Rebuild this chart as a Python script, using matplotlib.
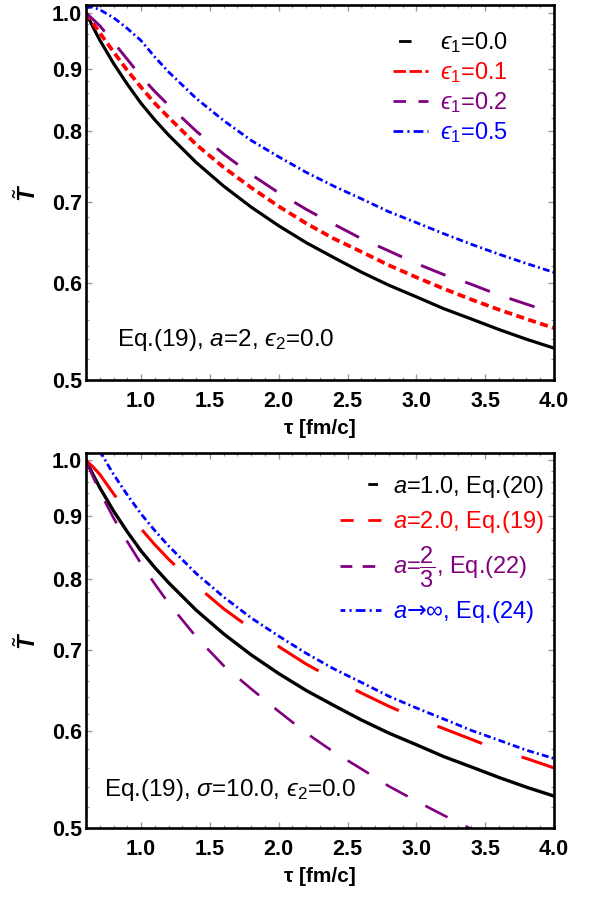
import matplotlib
matplotlib.use('Agg')
import matplotlib.pyplot as plt
from matplotlib.lines import Line2D
from matplotlib.ticker import FixedLocator, FixedFormatter, NullFormatter

plt.rcParams['font.family'] = ['Liberation Sans', 'DejaVu Sans']
plt.rcParams['mathtext.fontset'] = 'custom'
plt.rcParams['mathtext.rm'] = 'Liberation Sans'
plt.rcParams['mathtext.it'] = 'Liberation Sans:italic'
plt.rcParams['mathtext.bf'] = 'Liberation Sans:bold'
plt.rcParams['mathtext.bfit'] = 'Liberation Sans:italic:bold'
plt.rcParams['mathtext.sf'] = 'DejaVu Sans'
plt.rcParams['mathtext.fallback'] = 'stixsans'
plt.rcParams['lines.scale_dashes'] = False

# ---------------- data ----------------
tau = [0.6, 0.65, 0.7, 0.8, 0.9, 1.0, 1.1, 1.2, 1.4, 1.6, 1.8, 2.0,
       2.2, 2.4, 2.6, 2.8, 3.0, 3.2, 3.4, 3.6, 3.8, 4.0]

# top panel: Eq.(19), a=2, eps2=0.0
top_eps00 = [1.000, 0.974, 0.950, 0.909, 0.874, 0.843, 0.817, 0.794, 0.754, 0.721, 0.693, 0.669,
             0.648, 0.630, 0.613, 0.598, 0.585, 0.572, 0.561, 0.550, 0.540, 0.531]
top_eps01 = [1.000, 0.981, 0.963, 0.929, 0.897, 0.869, 0.843, 0.821, 0.780, 0.747, 0.719, 0.694,
             0.672, 0.653, 0.637, 0.621, 0.607, 0.594, 0.582, 0.571, 0.561, 0.5515]
top_eps02 = [1.000, 0.988, 0.976, 0.946, 0.916, 0.887, 0.862, 0.840, 0.800, 0.766, 0.737, 0.712,
             0.690, 0.671, 0.653, 0.638, 0.623, 0.610, 0.599, 0.587, 0.577, 0.567]
top_eps05 = [1.010, 1.011, 1.006, 0.991, 0.971, 0.949, 0.920, 0.8945, 0.851, 0.816, 0.786, 0.762,
             0.740, 0.721, 0.704, 0.687, 0.673, 0.659, 0.646, 0.634, 0.623, 0.6126]
top_labels = ['$\u03f5_1$=0.0', '$\u03f5_1$=0.1', '$\u03f5_1$=0.2', '$\u03f5_1$=0.5']

# bottom panel: Eq.(19), sigma=10.0, eps2=0.0
bot_a1 = [1.000, 0.974, 0.950, 0.909, 0.874, 0.843, 0.817, 0.794, 0.754, 0.721, 0.693, 0.669,
          0.648, 0.630, 0.613, 0.598, 0.585, 0.572, 0.561, 0.550, 0.540, 0.531]
bot_a2 = [1.000, 0.988, 0.974, 0.939, 0.907, 0.879, 0.853, 0.830, 0.790, 0.756, 0.728, 0.704,
          0.681, 0.662, 0.645, 0.629, 0.615, 0.603, 0.591, 0.579, 0.570, 0.560]
bot_a23 = [1.000, 0.970, 0.943, 0.897, 0.858, 0.823, 0.792, 0.764, 0.717, 0.679, 0.650, 0.623,
           0.598, 0.577, 0.559, 0.541, 0.526, 0.512, 0.499, 0.487, 0.476, 0.465]
bot_ainf = [1.072, 1.044, 1.018, 0.974, 0.937, 0.904, 0.876, 0.851, 0.808, 0.773, 0.743, 0.718,
            0.695, 0.675, 0.658, 0.641, 0.627, 0.614, 0.601, 0.590, 0.579, 0.570]
bot_labels = [r'$a$=1.0, Eq.(20)', r'$a$=2.0, Eq.(19)', r'$a$=$\dfrac{2}{3}$, Eq.(22)',
              '$a\\mathsf{\u2192}$\u221e, Eq.(24)']

xticks = [1.0, 1.5, 2.0, 2.5, 3.0, 3.5, 4.0]
xtick_labels = ['1.0', '1.5', '2.0', '2.5', '3.0', '3.5', '4.0']
xminor = [0.7, 0.8, 0.9, 1.1, 1.2, 1.3, 1.4, 1.6, 1.7, 1.8, 1.9, 2.1, 2.2, 2.3, 2.4,
          2.6, 2.7, 2.8, 2.9, 3.1, 3.2, 3.3, 3.4, 3.6, 3.7, 3.8, 3.9]
yticks = [0.5, 0.6, 0.7, 0.8, 0.9, 1.0]
ytick_labels = ['0.5', '0.6', '0.7', '0.8', '0.9', '1.0']
yminor = [0.52, 0.54, 0.56, 0.58, 0.62, 0.64, 0.66, 0.68, 0.72, 0.74, 0.76, 0.78,
          0.82, 0.84, 0.86, 0.88, 0.92, 0.94, 0.96, 0.98]

BLACK, RED, PURPLE, BLUE = '#000000', '#ff0000', '#800080', '#0000ff'

fig = plt.figure(figsize=(5.92, 8.97), dpi=100)
W, H = 592, 897
def axrect(l, t, r, b):
    return [l / W, 1 - b / H, (r - l) / W, (b - t) / H]

ax1 = fig.add_axes(axrect(86, 5.5, 554, 380))
ax2 = fig.add_axes(axrect(86, 453, 554, 828))

def style(ax):
    ax.set_yscale('log')
    ax.set_xlim(0.6, 4.0)
    ax.set_ylim(0.5, 1.014)
    ax.yaxis.set_major_locator(FixedLocator(yticks))
    ax.yaxis.set_major_formatter(FixedFormatter(ytick_labels))
    ax.yaxis.set_minor_locator(FixedLocator(yminor))
    ax.yaxis.set_minor_formatter(NullFormatter())
    ax.xaxis.set_major_locator(FixedLocator(xticks))
    ax.xaxis.set_major_formatter(FixedFormatter(xtick_labels))
    ax.xaxis.set_minor_locator(FixedLocator(xminor))
    ax.tick_params(which='both', direction='in', top=True, right=True, color='#999999')
    ax.tick_params(which='major', length=4.5, width=1.0)
    ax.tick_params(which='minor', length=2.5, width=0.8)
    ax.tick_params(axis='x', which='major', pad=8)
    ax.tick_params(axis='y', which='major', pad=3)
    for lab in ax.get_xticklabels() + ax.get_yticklabels():
        lab.set_fontweight('bold')
        lab.set_fontsize(15.5)
    for sp in ax.spines.values():
        sp.set_linewidth(1.9)
        sp.set_color('black')
    ax.set_xlabel('τ [fm/c]', fontsize=15, fontweight='bold', labelpad=5)
    ax.set_ylabel(r'$\tilde{\mathbfit{T}}$', fontsize=17, labelpad=8)

style(ax1)
style(ax2)

# top panel curves
ax1.plot(tau, top_eps00, color=BLACK, lw=2.3)
ax1.plot(tau, top_eps01, color=RED, lw=2.7, linestyle=(0, (5.8, 3.2)))
ax1.plot(tau, top_eps02, color=PURPLE, lw=2.1, linestyle=(0, (19, 15)))
ax1.plot(tau, top_eps05, color=BLUE, lw=2.0, linestyle=(0, (5, 2.3, 1.4, 2.3)))

h_top = [
    Line2D([], [], color=BLACK, lw=2.0, linestyle=(35, (9, 30))),
    Line2D([], [], color=RED, lw=2.0, linestyle=(0, (9, 2.5))),
    Line2D([], [], color=PURPLE, lw=2.0, linestyle=(0, (9, 9))),
    Line2D([], [], color=BLUE, lw=2.0, linestyle=(0, (7, 3, 1.5, 3))),
]
leg1 = ax1.legend(h_top, top_labels, loc='upper left', bbox_to_anchor=(0.656, 0.935),
                  frameon=False, fontsize=17, handlelength=1.5, handletextpad=0.5,
                  labelspacing=0.22, borderpad=0, borderaxespad=0,
                  labelcolor=[BLACK, RED, PURPLE, BLUE])
ax1.text(0.066, 0.107, 'Eq.(19), $a$=2, $\u03f5_2$=0.0', transform=ax1.transAxes,
         fontsize=17.5, ha='left', va='center')

# bottom panel curves
ax2.plot(tau, bot_a1, color=BLACK, lw=2.4)
ax2.plot(tau, bot_a2, color=RED, lw=2.2, linestyle=(0, (34.5, 30)))
ax2.plot(tau, bot_a23, color=PURPLE, lw=1.9, linestyle=(0, (18, 14.4)))
ax2.plot(tau, bot_ainf, color=BLUE, lw=2.0, linestyle=(0, (5, 2.3, 1.4, 2.3)))

h_bot = [
    Line2D([], [], color=BLACK, lw=2.0, linestyle=(87, (7, 100))),
    Line2D([], [], color=RED, lw=2.0, linestyle=(0, (9.5, 10.5))),
    Line2D([], [], color=PURPLE, lw=2.0, linestyle=(17, (9, 7.5))),
    Line2D([], [], color=BLUE, lw=2.0, linestyle=(18, (7, 3, 1.5, 3))),
]
leg2 = ax2.legend(h_bot, bot_labels, loc='upper left', bbox_to_anchor=(0.543, 0.945),
                  frameon=False, fontsize=17, handlelength=1.75, handletextpad=0.5,
                  labelspacing=0.4, borderpad=0, borderaxespad=0,
                  labelcolor=[BLACK, RED, PURPLE, BLUE])
ax2.text(0.038, 0.101, 'Eq.(19), $\\sigma$=10.0, $\u03f5_2$=0.0', transform=ax2.transAxes,
         fontsize=17.5, ha='left', va='center')

fig.savefig('out.png', dpi=100)
